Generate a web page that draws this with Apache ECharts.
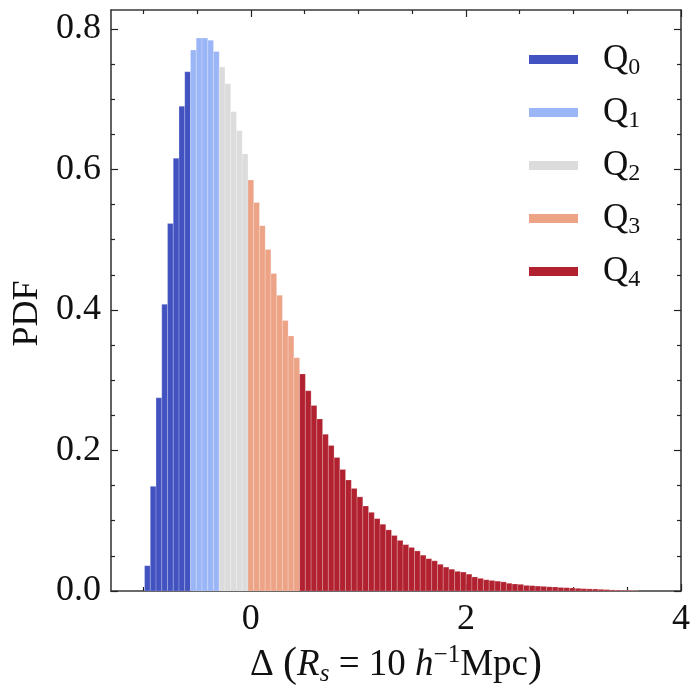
<!DOCTYPE html>
<html>
<head>
<meta charset="utf-8">
<script src="https://cdn.jsdelivr.net/npm/echarts@6/dist/echarts.min.js"></script>
<style>
  html, body { margin: 0; padding: 0; background: #fff; }
  #chart { width: 700px; height: 700px; }
</style>
</head>
<body>
<div id="chart"></div>
<script>
// histogram bins (same width for all quantiles)
var binStart = -0.988;
var binWidth = 0.0534;

// PDF height of every bin, split by quantile
var q0 = [0.036, 0.149, 0.275, 0.408, 0.523, 0.616, 0.690, 0.739];
var q1 = [0.770, 0.787, 0.787, 0.784, 0.768];
var q2 = [0.746, 0.722, 0.682, 0.655, 0.622];
var q3 = [0.585, 0.553, 0.520, 0.486, 0.452, 0.421, 0.385, 0.363, 0.332];
var q4 = [0.309, 0.285, 0.264, 0.245, 0.223, 0.207, 0.190, 0.173, 0.158, 0.146,
          0.134, 0.121, 0.112, 0.103, 0.095, 0.087, 0.079, 0.072, 0.066, 0.062,
          0.057, 0.051, 0.046, 0.043, 0.038, 0.034, 0.031, 0.028, 0.027, 0.024,
          0.020, 0.018, 0.016, 0.015, 0.014, 0.013, 0.011, 0.010, 0.0095, 0.008,
          0.0076, 0.007, 0.0066, 0.006, 0.0057, 0.005, 0.0047, 0.0043, 0.0038, 0.0033,
          0.003, 0.0028, 0.0024, 0.002, 0.0015, 0.0012, 0.001, 0.0008, 0.0006];

var quantNames = ['Q0', 'Q1', 'Q2', 'Q3', 'Q4'];
var quantColors = ['#4252c0', '#9bb6f6', '#dcdcdc', '#eca386', '#b1212f'];

var xMajor = [0, 2, 4];
var xMinor = [-1, -0.5, 0.5, 1, 1.5, 2.5, 3, 3.5];
var yMajor = [0, 0.2, 0.4, 0.6, 0.8];
var yMinor = [0.05, 0.1, 0.15, 0.25, 0.3, 0.35, 0.45, 0.5, 0.55, 0.65, 0.7, 0.75];

var font = '"Liberation Serif", "DejaVu Serif", serif';
var lineCol = '#3a3a3a';

// turn heights into [left edge, right edge, height]
var groups = [q0, q1, q2, q3, q4];
var offset = 0;
var binData = groups.map(function (arr) {
  var out = arr.map(function (h, i) {
    var x0 = binStart + (offset + i) * binWidth;
    return [x0, x0 + binWidth, h];
  });
  offset += arr.length;
  return out;
});

function renderBin(params, api) {
  var top = api.coord([api.value(0), api.value(2)]);
  var bot = api.coord([api.value(1), 0]);
  return {
    type: 'rect',
    shape: { x: top[0], y: top[1], width: bot[0] - top[0], height: bot[1] - top[1] },
    style: { fill: api.visual('color'), stroke: 'rgba(255,255,255,0.3)', lineWidth: 0.7 }
  };
}

function xAx(pos, ticks, len, withLine, labels) {
  return {
    type: 'value', min: -1.3, max: 4, position: pos,
    axisLine: { show: withLine, onZero: false, lineStyle: { color: lineCol, width: 1.6 } },
    axisTick: { show: true, inside: true, length: len, customValues: ticks,
                lineStyle: { color: '#222', width: 1.2 } },
    axisLabel: labels ? { customValues: ticks, fontFamily: font, fontSize: 36, color: '#111', margin: 11 }
                      : { show: false },
    splitLine: { show: false }
  };
}

function yAx(pos, ticks, len, withLine, labels) {
  return {
    type: 'value', min: 0, max: 0.827, position: pos,
    axisLine: { show: withLine, onZero: false, lineStyle: { color: lineCol, width: 1.6 } },
    axisTick: { show: true, inside: true, length: len, customValues: ticks,
                lineStyle: { color: '#222', width: 1.2 } },
    axisLabel: labels ? { customValues: ticks, fontFamily: font, fontSize: 36, color: '#111', margin: 10,
                          formatter: function (v) { return v.toFixed(1); } }
                      : { show: false },
    splitLine: { show: false }
  };
}

var xMain = xAx('bottom', xMajor, 7, true, true);
xMain.name = '{t|Δ }{b|(}{i|R}{s|s}{t| = 10 }{i|h}{p|−1}{t|Mpc}{b|)}';
xMain.nameLocation = 'middle';
xMain.nameGap = 44;
xMain.nameTextStyle = {
  rich: {
    t: { fontFamily: font, fontSize: 37, color: '#111', lineHeight: 44 },
    b: { fontFamily: font, fontSize: 42, color: '#111', lineHeight: 44 },
    i: { fontFamily: font, fontSize: 37, fontStyle: 'italic', color: '#111', lineHeight: 44 },
    s: { fontFamily: font, fontSize: 25, fontStyle: 'italic', color: '#111', verticalAlign: 'bottom', lineHeight: 30 },
    p: { fontFamily: font, fontSize: 25, color: '#111', verticalAlign: 'top', lineHeight: 30 }
  }
};

var yMain = yAx('left', yMajor, 7, true, true);
yMain.name = 'PDF';
yMain.nameLocation = 'middle';
yMain.nameGap = 64;
yMain.nameTextStyle = { fontFamily: font, fontSize: 36, color: '#111', padding: [0, 26, 0, 0] };

var chart = echarts.init(document.getElementById('chart'));
chart.setOption({
  animation: false,
  backgroundColor: '#fff',
  grid: { left: 111, right: 19, top: 10, bottom: 109, containLabel: false },
  xAxis: [
    xMain,
    xAx('bottom', xMinor, 4, false, false),
    xAx('top', xMajor, 7, true, false),
    xAx('top', xMinor, 4, false, false)
  ],
  yAxis: [
    yMain,
    yAx('left', yMinor, 4, false, false),
    yAx('right', yMajor, 7, true, false),
    yAx('right', yMinor, 4, false, false)
  ],
  legend: {
    orient: 'vertical', left: 529, top: 42, padding: 0,
    itemWidth: 49, itemHeight: 9, itemGap: 15.5, icon: 'rect',
    data: quantNames,
    formatter: function (name) { return '{g|}{q|Q}{n|' + name.slice(1) + '}'; },
    textStyle: {
      rich: {
        g: { width: 20 },
        q: { fontFamily: font, fontSize: 35, color: '#111', lineHeight: 40 },
        n: { fontFamily: font, fontSize: 24, color: '#111', verticalAlign: 'bottom', lineHeight: 26 }
      }
    }
  },
  series: quantNames.map(function (name, k) {
    return {
      name: name,
      type: 'custom',
      xAxisIndex: 0,
      yAxisIndex: 0,
      clip: true,
      itemStyle: { color: quantColors[k] },
      encode: { x: [0, 1], y: 2 },
      renderItem: renderBin,
      data: binData[k]
    };
  })
});
</script>
</body>
</html>
